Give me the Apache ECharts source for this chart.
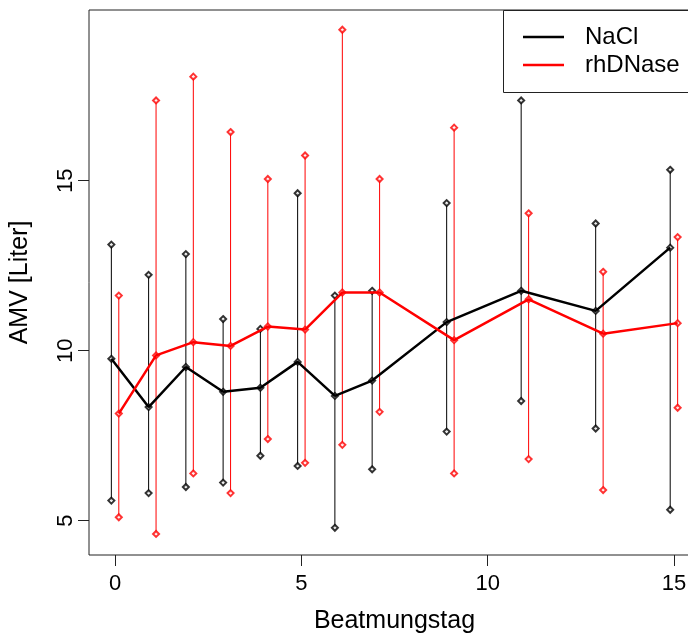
<!DOCTYPE html>
<html>
<head>
<meta charset="utf-8">
<script src="https://cdn.jsdelivr.net/npm/echarts@6/dist/echarts.min.js"></script>
<style>
  html, body { margin: 0; padding: 0; background: #fff; }
  #chart { width: 688px; height: 637px; }
</style>
</head>
<body>
<div id="chart"></div>
<script>
// Ventilation day of each measurement
const days = [0, 1, 2, 3, 4, 5, 6, 7, 9, 11, 13, 15];

// NaCl group: mean and error range (AMV, litres)
const naclMean = [9.76, 8.34, 9.52, 8.79, 8.91, 9.67, 8.67, 9.12, 10.84, 11.76, 11.17, 13.03];
const naclLow  = [5.59, 5.81, 5.99, 6.12, 6.91, 6.61, 4.79, 6.51, 7.62, 8.52, 7.71, 5.32];
const naclHigh = [13.12, 12.23, 12.84, 10.93, 10.64, 14.63, 11.62, 11.76, 14.34, 17.36, 13.74, 15.32];

// rhDNase group: mean and error range (AMV, litres)
const dnaseMean = [8.15, 9.86, 10.25, 10.14, 10.71, 10.62, 11.71, 11.71, 10.31, 11.51, 10.50, 10.81];
const dnaseLow  = [5.10, 4.61, 6.39, 5.81, 7.40, 6.70, 7.23, 8.20, 6.39, 6.81, 5.90, 8.32];
const dnaseHigh = [11.62, 17.36, 18.06, 16.43, 15.05, 15.74, 19.44, 15.05, 16.56, 14.04, 12.32, 13.34];

// Axis ticks
const xTicks = [0, 5, 10, 15];
const yTicks = [5, 10, 15];

// Horizontal shift so the two groups do not overlap on the same day
const dodge = 0.1;

const font = '"Liberation Sans", Arial, sans-serif';

function shifted(d) { return days.map(x => x + d); }

function barData(xs, lo, hi) {
  return xs.map((x, i) => [x, lo[i], hi[i]]);
}
function markerData(xs, lo, mid, hi) {
  const out = [];
  xs.forEach((x, i) => { out.push([x, lo[i]], [x, mid[i]], [x, hi[i]]); });
  return out;
}
function lineData(xs, mid) {
  return xs.map((x, i) => [x, mid[i]]);
}

function errorBars(name, color, xs, lo, hi) {
  return {
    type: 'custom',
    name: name + ' range',
    silent: true,
    z: 2,
    data: barData(xs, lo, hi),
    encode: { x: 0, y: [1, 2] },
    renderItem: function (params, api) {
      const p1 = api.coord([api.value(0), api.value(1)]);
      const p2 = api.coord([api.value(0), api.value(2)]);
      return {
        type: 'line',
        shape: { x1: p1[0], y1: p1[1], x2: p2[0], y2: p2[1] },
        style: { stroke: color, lineWidth: 1 }
      };
    }
  };
}

function markers(name, color, xs, lo, mid, hi) {
  return {
    type: 'scatter',
    name: name + ' points',
    silent: true,
    z: 3,
    symbol: 'emptyDiamond',
    symbolSize: 6,
    itemStyle: { color: color, borderColor: color, borderWidth: 1 },
    data: markerData(xs, lo, mid, hi)
  };
}

function meanLine(name, color, xs, mid) {
  return {
    type: 'line',
    name: name,
    z: 4,
    symbol: 'none',
    lineStyle: { color: color, width: 2.5 },
    itemStyle: { color: color },
    data: lineData(xs, mid)
  };
}

const xNacl = shifted(-dodge);
const xDnase = shifted(dodge);

const legendLine = 'path://M0,0H41V2.5H0Z';

const chart = echarts.init(document.getElementById('chart'), null, { renderer: 'canvas' });

chart.setOption({
  animation: false,
  backgroundColor: '#fff',
  grid: {
    left: 89, top: 10, width: 611, height: 545,
    outerBoundsMode: 'none',
    containLabel: false,
    show: true, borderColor: '#222', borderWidth: 1, backgroundColor: 'transparent'
  },
  // legend frame, running off the right edge like the plot frame
  graphic: [{
    type: 'rect',
    z: 90,
    silent: true,
    shape: { x: 503.5, y: 10.5, width: 230, height: 82 },
    style: { fill: '#fff', stroke: '#222', lineWidth: 1 }
  }],
  legend: {
    left: 503, top: 10,
    z: 100,
    orient: 'vertical',
    padding: [15, 10, 15, 20],
    itemWidth: 41, itemHeight: 14, itemGap: 4,
    symbolKeepAspect: true,
    borderWidth: 0,
    backgroundColor: 'transparent',
    textStyle: { fontFamily: font, fontSize: 24, color: '#000', padding: [0, 0, 0, 16] },
    data: [
      { name: 'NaCl', icon: legendLine },
      { name: 'rhDNase', icon: legendLine }
    ]
  },
  xAxis: {
    type: 'value',
    min: -0.7, max: 15.7,
    name: 'Beatmungstag',
    nameLocation: 'middle',
    nameGap: 54,
    nameTextStyle: { fontFamily: font, fontSize: 25, color: '#000' },
    axisLine: { show: false, onZero: false },
    splitLine: { show: false },
    axisTick: { show: true, length: 11, lineStyle: { color: '#222' }, customValues: xTicks },
    axisLabel: { fontFamily: font, fontSize: 22, color: '#000', margin: 18, customValues: xTicks, showMinLabel: true, showMaxLabel: true }
  },
  yAxis: {
    type: 'value',
    min: 3.99, max: 20.02,
    name: 'AMV [Liter]',
    nameLocation: 'middle',
    nameRotate: 90,
    nameGap: 56,
    nameTextStyle: { fontFamily: font, fontSize: 25, color: '#000' },
    axisLine: { show: false, onZero: false },
    splitLine: { show: false },
    axisTick: { show: true, length: 11, lineStyle: { color: '#222' }, customValues: yTicks },
    axisLabel: { fontFamily: font, fontSize: 22, color: '#000', margin: 12, rotate: 90, customValues: yTicks }
  },
  series: [
    errorBars('NaCl', '#000', xNacl, naclLow, naclHigh),
    errorBars('rhDNase', '#ff0000', xDnase, dnaseLow, dnaseHigh),
    markers('NaCl', '#000', xNacl, naclLow, naclMean, naclHigh),
    markers('rhDNase', '#ff0000', xDnase, dnaseLow, dnaseMean, dnaseHigh),
    meanLine('NaCl', '#000', xNacl, naclMean),
    meanLine('rhDNase', '#ff0000', xDnase, dnaseMean)
  ]
});
</script>
</body>
</html>
